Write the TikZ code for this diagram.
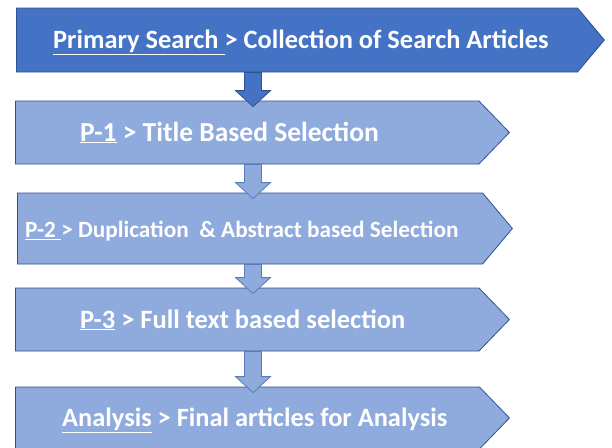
\documentclass[tikz,border=0pt]{standalone}
\usepackage{fontspec}
\setmainfont{Carlito}
\usetikzlibrary{shapes.symbols,calc}
\definecolor{darkblue}{HTML}{4472C4}
\definecolor{lightblue}{HTML}{8FAADC}
\definecolor{edgeblue}{HTML}{2F528F}
\definecolor{arrowedge}{HTML}{5B7CB8}
\newcommand{\ulin}[1]{\underline{\hbox{#1}}}
% block arrow from the bottom of one stage into the top of the next
\newcommand{\flowarrow}[3]{%
  \draw[#1] let \p1=(#2.south), \p2=(#3.north) in
    (244.5pt,\y1) -- (244.5pt,\y2+10pt) -- (235.5pt,\y2+10pt) -- (253pt,\y2-6pt)
    -- (270.5pt,\y2+10pt) -- (261.5pt,\y2+10pt) -- (261.5pt,\y1) -- cycle;}
\begin{document}
\begin{tikzpicture}[x=1pt,y=-1pt,
    stage/.style={shape=signal, signal to=east, signal from=nowhere, draw=edgeblue,
      fill=lightblue, line width=0.8pt, inner sep=0pt, anchor=west},
    stagetext/.style={text=white, font=\bfseries\fontsize{26.5}{30}\selectfont,
      inner sep=0pt, anchor=base west}]
	\useasboundingbox (0,0) rectangle (612,447);
	\clip (0,0) rectangle (612,447);
	\node[stage, fill=darkblue, minimum width=588, minimum height=64, signal pointer angle=100] (primary) at (16,40) {};
	\node[stage, minimum width=494, minimum height=63, signal pointer angle=92] (pone) at (15,132.5) {};
	\node[stage, minimum width=495, minimum height=71, signal pointer angle=100] (ptwo) at (17,228.5) {};
	\node[stage, minimum width=494, minimum height=63, signal pointer angle=92] (pthree) at (15,319.5) {};
	\node[stage, minimum width=494, minimum height=62, signal pointer angle=92] (final) at (15,418) {};
	\flowarrow{fill=darkblue, draw=edgeblue, line width=0.8pt}{primary}{pone}
	\flowarrow{fill=lightblue, draw=arrowedge, line width=0.8pt}{pone}{ptwo}
	\flowarrow{fill=lightblue, draw=arrowedge, line width=0.8pt}{ptwo}{pthree}
	\flowarrow{fill=lightblue, draw=arrowedge, line width=0.8pt}{pthree}{final}
	\node[stagetext, font=\bfseries\fontsize{26.4}{30}\selectfont] (tprimary) at (53,48.5) {\ulin{Primary Search\ }> Collection of Search Articles};
	\node[stagetext, font=\bfseries\fontsize{27.5}{31}\selectfont] (tone) at (80,141) {\ulin{P-1} > Title Based Selection};
	\node[stagetext, font=\bfseries\fontsize{23.3}{27}\selectfont] (ttwo) at (25,237.5) {\ulin{P-2\ }> Duplication\ \ \& Abstract based Selection};
	\node[stagetext] (tthree) at (80,328) {\ulin{P-3} > Full text based selection};
	\node[stagetext, font=\bfseries\fontsize{26.4}{30}\selectfont] (tfinal) at (62,426.5) {\ulin{Analysis} > Final articles for Analysis};
\end{tikzpicture}
\end{document}
